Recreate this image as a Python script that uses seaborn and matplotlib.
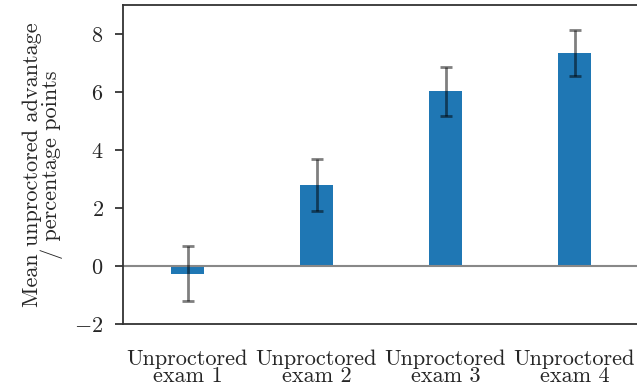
import matplotlib
matplotlib.use("Agg")
import matplotlib.pyplot as plt
import seaborn as sns
import pandas as pd

categories = ["Unproctored\nexam 1", "Unproctored\nexam 2", "Unproctored\nexam 3", "Unproctored\nexam 4"]
means = [-0.27, 2.80, 6.02, 7.34]
err_low = [-1.20, 1.88, 5.16, 6.54]
err_high = [0.70, 3.70, 6.85, 8.13]

sns.set_theme(style="white")
plt.rcParams["font.family"] = ["cmr10", "DejaVu Serif"]
plt.rcParams["mathtext.fontset"] = "cm"
plt.rcParams["axes.formatter.use_mathtext"] = True
plt.rcParams["axes.unicode_minus"] = True

df = pd.DataFrame({"exam": categories, "mean": means})

fs = 16
fig = plt.figure(figsize=(6.37, 3.89), dpi=100)
ax = fig.add_axes([123/637, 1-324/389, 516/637, 319/389])
sns.barplot(data=df, x="exam", y="mean", color="#1f77b4", saturation=1, width=0.25, ax=ax, errorbar=None, linewidth=0)
ax.axhline(0, color="#888888", lw=1.5, zorder=1)
yerr = [[m - lo for m, lo in zip(means, err_low)], [hi - m for m, hi in zip(means, err_high)]]
ax.errorbar(range(len(means)), means, yerr=yerr, fmt="none", ecolor="black", alpha=0.5, capsize=4, elinewidth=2, capthick=2, zorder=3)
ax.set_xlim(-0.5, 3.5)
ax.set_ylim(-2, 9)
ax.set_yticks([-2, 0, 2, 4, 6, 8])
ax.set_xlabel("")
ax.set_ylabel("Mean unproctored advantage\n/ percentage points", fontsize=fs, labelpad=8, linespacing=0.95)
ax.tick_params(axis="y", which="both", left=True, length=6, width=1.2, color="#222222", labelsize=fs, pad=8)
ax.tick_params(axis="x", bottom=False, labelsize=fs, pad=12)
for lab in ax.get_xticklabels():
    lab.set_linespacing(0.85)
for s in ["left", "bottom", "top"]:
    ax.spines[s].set_color("#333333")
    ax.spines[s].set_linewidth(1.3)
ax.spines["right"].set_visible(False)
fig.savefig("out.png", dpi=100)
